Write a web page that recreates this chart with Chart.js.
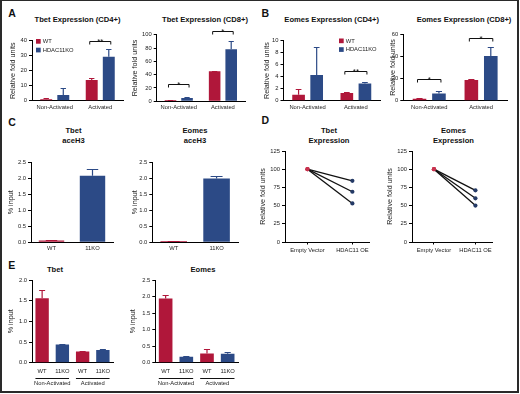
<!DOCTYPE html>
<html>
<head>
<meta charset="utf-8">
<script src="https://cdn.jsdelivr.net/npm/chart.js@4.4.1/dist/chart.umd.min.js"></script>
<style>
html,body{margin:0;padding:0;background:#fff;width:520px;height:394px;overflow:hidden;}
#fig{position:relative;width:520px;height:394px;}
#frame{position:absolute;left:0;top:0;width:519px;height:393px;box-sizing:border-box;border:2px solid #2a2a2a;border-top-width:1px;pointer-events:none;z-index:5;}
canvas{position:absolute;}
.t{position:absolute;font-family:"Liberation Sans",Arial,sans-serif;font-weight:bold;color:#111;white-space:nowrap;line-height:1;}
</style>
</head>
<body>
<div id="fig"><div id="frame"></div></div>
<script>
// ---------------- DATA ----------------
const groupLabels = ['Non-Activated', 'Activated'];
const seriesLabels = ['WT', 'HDAC11KO'];

// A: Tbet expression
const tbetCD4WT = [1.0, 13.8];
const tbetCD4WTErr = [0.6, 1.5];
const tbetCD4KO = [3.8, 29.3];
const tbetCD4KOErr = [4.4, 5.0];
const tbetCD8WT = [2.0, 45.0];
const tbetCD8WTErr = [0.5, 1.0];
const tbetCD8KO = [5.0, 78.0];
const tbetCD8KOErr = [1.5, 13.0];

// B: Eomes expression
const eomesCD4WT = [1.0, 1.27];
const eomesCD4WTErr = [0.95, 0.2];
const eomesCD4KO = [4.25, 2.87];
const eomesCD4KOErr = [4.6, 0.28];
const eomesCD8WT = [1.8, 18.7];
const eomesCD8WTErr = [0.6, 1.2];
const eomesCD8KO = [6.6, 40.4];
const eomesCD8KOErr = [2.4, 8.4];

// C: aceH3 ChIP
const chipLabels = ['WT', '11KO'];
const tbetAceH3 = [0.06, 2.08];
const tbetAceH3Err = [0.02, 0.2];
const eomesAceH3 = [0.04, 1.99];
const eomesAceH3Err = [0.01, 0.09];

// D: overexpression
const oeLabels = ['Empty Vector', 'HDAC11 OE'];
const tbetEV = [100, 100, 100];
const tbetOE = [84, 69, 53];
const eomesEV = [100, 100, 100];
const eomesOE = [71, 60, 50];

// E: % input by activation state
const eLabels = ['WT', '11KO', 'WT', '11KO'];
const eGroups = [['Non-Activated', 0, 1], ['Activated', 2, 3]];
const tbetE = [1.56, 0.44, 0.27, 0.31];
const tbetEErr = [0.21, 0.02, 0.02, 0.01];
const eomesE = [1.94, 0.18, 0.28, 0.27];
const eomesEErr = [0.11, 0.03, 0.12, 0.05];

// significance brackets: [group index, bracket level, text]
const sigTbetCD4 = [[1, 40, '**']];
const sigTbetCD8 = [[0, 26, '*'], [1, 105, '*']];
const sigEomesCD4 = [[1, 4.9, '**']];
const sigEomesCD8 = [[0, 20, '*'], [1, 56.5, '*']];

// y tick labels
const ticksTbetCD4 = [0, 10, 20, 30, 40];
const ticksTbetCD8 = [0, 20, 40, 60, 80, 100];
const ticksEomesCD4 = [0, 2, 4, 6, 8, 10];
const ticksEomesCD8 = [0, 20, 40, 60];
const ticksChip = [0, 0.5, 1.0, 1.5, 2.0, 2.5];
const ticksOE = [0, 25, 50, 75, 100, 125];
const ticksTbetE = [0, 0.5, 1.0, 1.5, 2.0];
const ticksEomesE = [0, 0.5, 1.0, 1.5, 2.0, 2.5];

// ---------------- STYLE ----------------
const FONT = '"Liberation Sans", Arial, sans-serif';
const RED = '#b0173a';
const BLUE = '#2c4a86';
const PT_RED = '#c8324e';
const PT_NAVY = '#243a66';
const TXT = '#222';

const fig = document.getElementById('fig');

function addText(txt, cx, cy, size, left) {
  const d = document.createElement('div');
  d.className = 't';
  d.textContent = txt;
  d.style.fontSize = size + 'px';
  d.style.top = (cy - size / 2) + 'px';
  if (left) { d.style.left = cx + 'px'; }
  else { d.style.left = cx + 'px'; d.style.transform = 'translateX(-50%)'; }
  fig.appendChild(d);
}

// ---------------- PLUGINS ----------------
const errorBarPlugin = {
  id: 'errbars',
  afterDatasetsDraw(chart) {
    const ctx = chart.ctx, y = chart.scales.y;
    chart.data.datasets.forEach((ds, di) => {
      if (!ds.errors) return;
      const meta = chart.getDatasetMeta(di);
      meta.data.forEach((bar, i) => {
        const e = ds.errors[i];
        if (e == null) return;
        const col = Array.isArray(ds.backgroundColor) ? ds.backgroundColor[i] : ds.backgroundColor;
        const yt = Math.round(y.getPixelForValue(ds.data[i] + e)) + 0.5;
        const w = bar.width * 0.45;
        ctx.save();
        ctx.strokeStyle = col; ctx.lineWidth = 1.2;
        ctx.beginPath();
        ctx.moveTo(bar.x, bar.y); ctx.lineTo(bar.x, yt);
        ctx.moveTo(bar.x - w / 2, yt); ctx.lineTo(bar.x + w / 2, yt);
        ctx.stroke();
        ctx.restore();
      });
    });
  }
};

const sigPlugin = {
  id: 'sig',
  afterDatasetsDraw(chart, args, opts) {
    const marks = opts.marks;
    if (!marks) return;
    const ctx = chart.ctx, y = chart.scales.y;
    const m0 = chart.getDatasetMeta(0), m1 = chart.getDatasetMeta(1);
    marks.forEach(([gi, lvl, txt]) => {
      const b0 = m0.data[gi], b1 = m1.data[gi];
      const x0 = b0.x - 2, x1 = b1.x + 2;
      const yy = Math.round(y.getPixelForValue(lvl)) + 0.5;
      ctx.save();
      ctx.strokeStyle = '#111'; ctx.lineWidth = 1;
      ctx.beginPath();
      ctx.moveTo(x0, yy + 3); ctx.lineTo(x0, yy); ctx.lineTo(x1, yy); ctx.lineTo(x1, yy + 3);
      ctx.stroke();
      ctx.fillStyle = '#111';
      ctx.font = '8px ' + FONT;
      ctx.textAlign = 'center'; ctx.textBaseline = 'alphabetic';
      ctx.fillText(txt, (x0 + x1) / 2, yy + 2);
      ctx.restore();
    });
  }
};

const legendPlugin = {
  id: 'miniLegend',
  afterDraw(chart, args, opts) {
    if (!opts.at) return;
    const ctx = chart.ctx;
    const [lx, ly] = opts.at;
    chart.data.datasets.forEach((ds, i) => {
      const yy = ly + i * 8.7;
      ctx.save();
      ctx.fillStyle = ds.backgroundColor;
      ctx.fillRect(lx, yy, 4.7, 4.7);
      ctx.fillStyle = TXT;
      ctx.font = '5.8px ' + FONT;
      ctx.textAlign = 'left'; ctx.textBaseline = 'middle';
      ctx.fillText(ds.label, lx + 6.7, yy + 2.5);
      ctx.restore();
    });
  }
};

const groupPlugin = {
  id: 'groups',
  afterDraw(chart, args, opts) {
    if (!opts.groups) return;
    const ctx = chart.ctx;
    const meta = chart.getDatasetMeta(0);
    const yb = chart.chartArea.bottom;
    opts.groups.forEach(([label, from, to]) => {
      const a = meta.data[from], b = meta.data[to];
      const x0 = a.x - a.width / 2, x1 = b.x + b.width / 2;
      const yy = Math.round(yb + 15) + 0.5;
      ctx.save();
      ctx.strokeStyle = '#111'; ctx.lineWidth = 1;
      ctx.beginPath(); ctx.moveTo(x0, yy); ctx.lineTo(x1, yy); ctx.stroke();
      ctx.fillStyle = TXT; ctx.font = '5.8px ' + FONT;
      ctx.textAlign = 'center'; ctx.textBaseline = 'middle';
      ctx.fillText(label, (x0 + x1) / 2, yy + 5.3);
      ctx.restore();
    });
  }
};

// ---------------- BUILDER ----------------
function makeChart(g) {
  const ylabSize = 7.2, lh = ylabSize * 1.2;
  const left = Math.floor(g.ylabX - lh / 2 - 0.5);
  const top = Math.floor(g.plotT - g.padTop);
  const W = Math.ceil(g.plotR - left + 3);
  const H = Math.ceil(g.plotB - top + g.xAxisH);
  const c = document.createElement('canvas');
  c.width = W; c.height = H;
  c.style.left = left + 'px'; c.style.top = top + 'px';
  c.style.width = W + 'px'; c.style.height = H + 'px';
  fig.appendChild(c);

  const yW = g.plotL - left;
  const xH = H - (g.plotB - top);
  const titlePad = g.ylabX - left - lh / 2;
  const yt = g.yTicks;
  const fmt = v => g.decimals ? Number(v).toFixed(g.decimals) : String(v);

  const xScale = Object.assign({
    afterFit: s => { s.height = xH; },
    border: { display: true, color: '#000', width: 1 },
    ticks: { font: { size: 5.8, family: FONT }, color: TXT, padding: g.xPad, maxRotation: 0, minRotation: 0, autoSkip: false }
  }, g.xScale);

  const cfg = {
    type: g.type,
    data: g.data,
    options: {
      responsive: false,
      animation: false,
      devicePixelRatio: 1,
      layout: { padding: { top: g.plotT - top, right: W - (g.plotR - left), left: 0, bottom: 0 } },
      plugins: {
        legend: { display: false },
        tooltip: { enabled: false },
        title: { display: false },
        sig: { marks: g.sig || null },
        miniLegend: { at: g.legendAt ? [g.legendAt[0] - left, g.legendAt[1] - top] : null },
        groups: { groups: g.groups || null }
      },
      scales: {
        x: xScale,
        y: {
          type: 'linear',
          min: 0, max: yt[yt.length - 1],
          afterBuildTicks: s => { s.ticks = yt.map(v => ({ value: v })); },
          afterFit: s => { s.width = yW; },
          grid: { display: true, drawOnChartArea: false, drawTicks: true, tickLength: 3, color: '#000', lineWidth: 1 },
          border: { display: true, color: '#000', width: 1 },
          ticks: { font: { size: 5.8, family: FONT }, color: TXT, padding: 2, callback: v => fmt(v) },
          title: { display: true, text: g.ylab, font: { size: ylabSize, family: FONT }, color: TXT, padding: { top: titlePad, bottom: 0 } }
        }
      }
    },
    plugins: [errorBarPlugin, sigPlugin, legendPlugin, groupPlugin]
  };
  return new Chart(c, cfg);
}

function groupedBars(wt, wtErr, ko, koErr) {
  return {
    labels: groupLabels,
    datasets: [
      { label: seriesLabels[0], data: wt, errors: wtErr, backgroundColor: RED, borderWidth: 0, categoryPercentage: 0.75, barPercentage: 0.7 },
      { label: seriesLabels[1], data: ko, errors: koErr, backgroundColor: BLUE, borderWidth: 0, categoryPercentage: 0.75, barPercentage: 0.7 }
    ]
  };
}

const catX = { type: 'category', offset: true, grid: { display: false, drawTicks: false } };

// ---------------- PANEL A ----------------
makeChart({ type: 'bar', data: groupedBars(tbetCD4WT, tbetCD4WTErr, tbetCD4KO, tbetCD4KOErr),
  plotL: 32, plotR: 123, plotT: 40.7, plotB: 100.7, ylabX: 12.7, padTop: 8, xAxisH: 12, xPad: 3,
  yTicks: ticksTbetCD4, ylab: 'Relative fold units', sig: sigTbetCD4, legendAt: [36, 39], xScale: catX });

makeChart({ type: 'bar', data: groupedBars(tbetCD8WT, tbetCD8WTErr, tbetCD8KO, tbetCD8KOErr),
  plotL: 156.7, plotR: 245, plotT: 34.7, plotB: 101.3, ylabX: 135.5, padTop: 8, xAxisH: 12, xPad: 3,
  yTicks: ticksTbetCD8, ylab: 'Relative fold units', sig: sigTbetCD8, xScale: catX });

// ---------------- PANEL B ----------------
makeChart({ type: 'bar', data: groupedBars(eomesCD4WT, eomesCD4WTErr, eomesCD4KO, eomesCD4KOErr),
  plotL: 283.5, plotR: 380, plotT: 40.5, plotB: 100.7, ylabX: 266.7, padTop: 8, xAxisH: 12, xPad: 3,
  yTicks: ticksEomesCD4, ylab: 'Relative fold units', sig: sigEomesCD4, legendAt: [339, 38.5], xScale: catX });

makeChart({ type: 'bar', data: groupedBars(eomesCD8WT, eomesCD8WTErr, eomesCD8KO, eomesCD8KOErr),
  plotL: 403.3, plotR: 507, plotT: 34.3, plotB: 100.7, ylabX: 393, padTop: 8, xAxisH: 12, xPad: 3,
  yTicks: ticksEomesCD8, ylab: 'Relative fold units', sig: sigEomesCD8, xScale: catX });

// ---------------- PANEL C ----------------
function singleBars(labels, vals, errs) {
  return { labels: labels, datasets: [{ label: '% input', data: vals, errors: errs,
    backgroundColor: vals.map((v, i) => labels[i] === 'WT' ? RED : BLUE), borderWidth: 0,
    categoryPercentage: 1.0, barPercentage: 0.62 }] };
}
makeChart({ type: 'bar', data: singleBars(chipLabels, tbetAceH3, tbetAceH3Err),
  plotL: 31, plotR: 113, plotT: 162.3, plotB: 242.3, ylabX: 10.8, padTop: 6, xAxisH: 12, xPad: 3,
  yTicks: ticksChip, decimals: 1, ylab: '% input', xScale: catX });
makeChart({ type: 'bar', data: singleBars(chipLabels, eomesAceH3, eomesAceH3Err),
  plotL: 152.3, plotR: 238, plotT: 162.3, plotB: 242.3, ylabX: 135.5, padTop: 6, xAxisH: 12, xPad: 3,
  yTicks: ticksChip, decimals: 1, ylab: '% input', xScale: catX });

// ---------------- PANEL D ----------------
function pairedLines(ev, oe) {
  return { datasets: ev.map((v, i) => ({
    label: 'rep' + (i + 1),
    data: [{ x: 0, y: v }, { x: 1, y: oe[i] }],
    borderColor: '#111', borderWidth: 1.3, fill: false, tension: 0,
    pointRadius: 2.1, pointBorderWidth: 0,
    pointBackgroundColor: [PT_RED, PT_NAVY]
  })) };
}
function oeX(min, max) {
  return { type: 'linear', min: min, max: max,
    afterBuildTicks: s => { s.ticks = oeLabels.map((l, i) => ({ value: i })); },
    grid: { display: true, drawOnChartArea: false, drawTicks: true, tickLength: 2.5, color: '#000', lineWidth: 1 },
    ticks: { font: { size: 5.8, family: FONT }, color: TXT, padding: 2, maxRotation: 0, minRotation: 0, autoSkip: false,
      callback: v => oeLabels[v] } };
}
makeChart({ type: 'line', data: pairedLines(tbetEV, tbetOE),
  plotL: 285, plotR: 370, plotT: 151, plotB: 242, ylabX: 263.5, padTop: 6, xAxisH: 14, xPad: 2,
  yTicks: ticksOE, ylab: 'Relative fold units', xScale: oeX(-0.5, 1.37) });
makeChart({ type: 'line', data: pairedLines(eomesEV, eomesOE),
  plotL: 412, plotR: 493, plotT: 151, plotB: 242, ylabX: 390.5, padTop: 6, xAxisH: 14, xPad: 2,
  yTicks: ticksOE, ylab: 'Relative fold units', xScale: oeX(-0.53, 1.40) });

// ---------------- PANEL E ----------------
function eBars(vals, errs) {
  return { labels: eLabels, datasets: [{ label: '% input', data: vals, errors: errs,
    backgroundColor: eLabels.map(l => l === 'WT' ? RED : BLUE), borderWidth: 0,
    categoryPercentage: 1.0, barPercentage: 0.66 }] };
}
makeChart({ type: 'bar', data: eBars(tbetE, tbetEErr),
  plotL: 32, plotR: 113, plotT: 280, plotB: 362.7, ylabX: 10.8, padTop: 6, xAxisH: 26, xPad: 5.4,
  yTicks: ticksTbetE, decimals: 1, ylab: '% input', groups: eGroups, xScale: catX });
makeChart({ type: 'bar', data: eBars(eomesE, eomesEErr),
  plotL: 155.3, plotR: 238, plotT: 280, plotB: 362.7, ylabX: 133, padTop: 6, xAxisH: 26, xPad: 5.4,
  yTicks: ticksEomesE, decimals: 1, ylab: '% input', groups: eGroups, xScale: catX });

// ---------------- TITLES & PANEL LETTERS ----------------
const TS = 7.6;
addText('Tbet Expression (CD4+)', 77.5, 19.3, TS);
addText('Tbet Expression (CD8+)', 205, 19.3, TS);
addText('Eomes Expression (CD4+)', 331.7, 19.3, TS);
addText('Eomes Expression (CD8+)', 464, 19.3, TS);
addText('Tbet', 73.5, 130.5, TS); addText('aceH3', 73.5, 141, TS);
addText('Eomes', 195, 130.5, TS); addText('aceH3', 195, 141, TS);
addText('Tbet', 329, 130.5, TS); addText('Expression', 329, 141, TS);
addText('Eomes', 453.5, 130.5, TS); addText('Expression', 453.5, 141, TS);
addText('Tbet', 55, 270, TS);
addText('Eomes', 203, 270, TS);

const LS = 10.5;
addText('A', 8.3, 8 + LS / 2, LS, true);
addText('B', 261.5, 8 + LS / 2, LS, true);
addText('C', 8.3, 117 + LS / 2, LS, true);
addText('D', 261.5, 115 + LS / 2, LS, true);
addText('E', 8.3, 259.6 + LS / 2, LS, true);
</script>
</body>
</html>
